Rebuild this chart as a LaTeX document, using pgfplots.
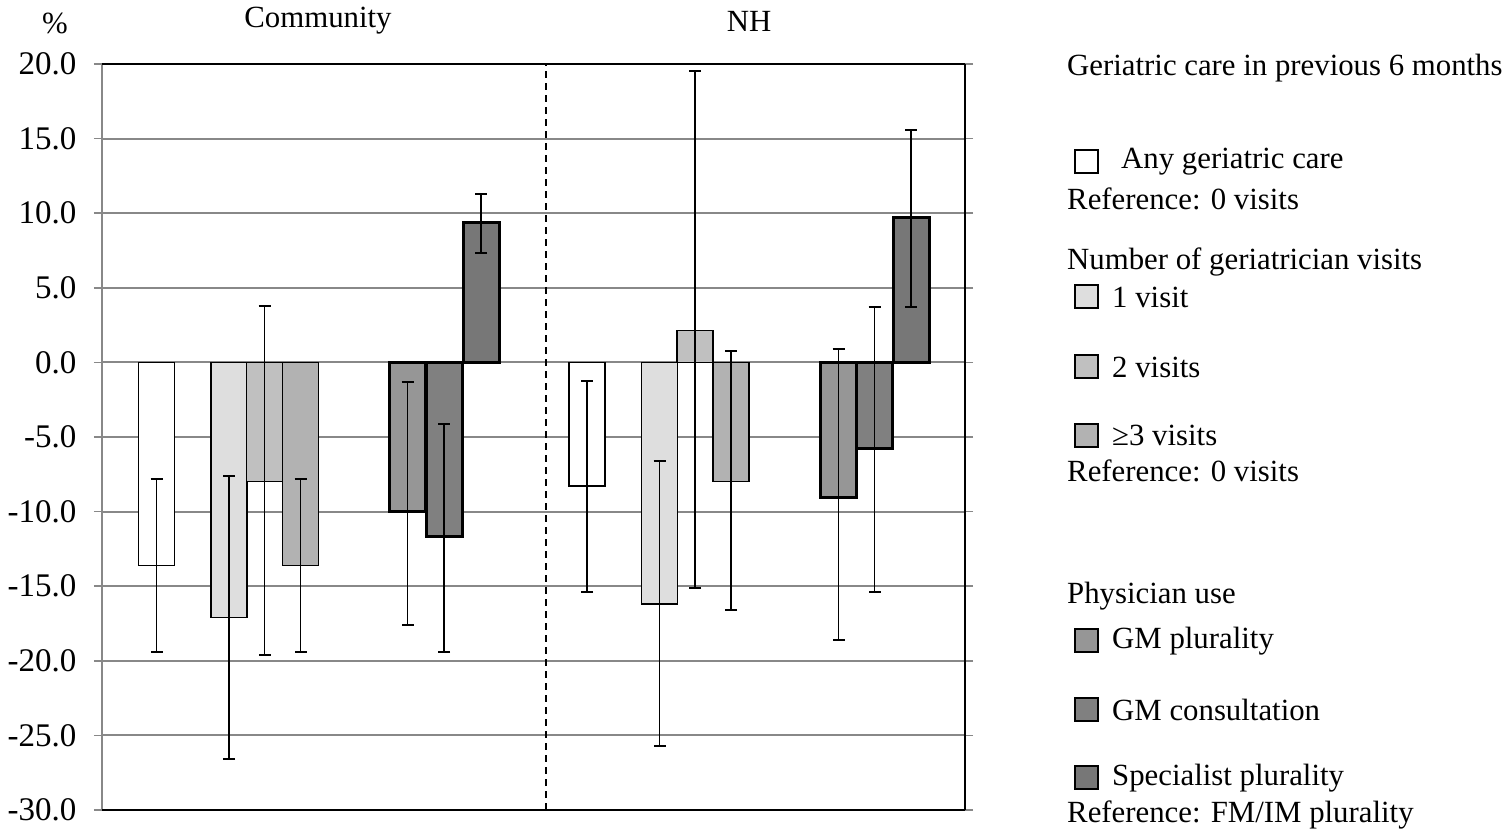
\documentclass[border=0pt]{standalone}
\usepackage{pgfplots}
\pgfplotsset{compat=1.18}
\usepackage{fontspec}
\setmainfont{Liberation Serif}
\definecolor{cA}{HTML}{FFFFFF}
\definecolor{cB}{HTML}{DEDEDE}
\definecolor{cC}{HTML}{C0C0C0}
\definecolor{cD}{HTML}{B2B2B2}
\definecolor{cE}{HTML}{969696}
\definecolor{cF}{HTML}{808080}
\definecolor{cG}{HTML}{777777}
\definecolor{gridg}{HTML}{888888}
\newcommand{\fs}{\fontsize{30.8bp}{36bp}\selectfont}
\newcommand{\fst}{\fontsize{33bp}{38bp}\selectfont}
\begin{document}
\begin{tikzpicture}[x=1bp,y=1bp]
\useasboundingbox (0,0) rectangle (1509,835);
\begin{axis}[
  at={(102bp,25bp)}, anchor=south west,
  scale only axis, width=863bp, height=746bp,
  xmin=102, xmax=965, ymin=-30, ymax=20,
  ytick={-30,-25,...,20},
  xtick=\empty,
  ymajorgrids, grid style={gridg, line width=2bp},
  axis line style={draw=none},
  tick align=outside, major tick length=8bp,
  every tick/.style={gridg, line width=1.5bp},
  yticklabel style={font=\fst, xshift=-14bp},
  /pgf/number format/assume math mode=true,
  /pgf/number format/.cd, fixed, fixed zerofill, precision=1,
  /pgfplots/.cd,
  ybar, bar shift=0pt, bar width=36,
  error bars/y dir=both, error bars/y explicit,
  error bars/error bar style={black, line width=1.8bp},
  error bars/error mark options={black, line width=2bp, mark size=6bp, rotate=90},
  clip=false,
]
\addplot[draw=black, fill=cA, line width=1.6bp] coordinates {
 (156.5,-13.6) += (0,5.8) -= (0,5.8)
 (587,-8.3) += (0,7.03) -= (0,7.1)
};
\addplot[draw=black, fill=cB, line width=1.4bp] coordinates {
 (229,-17.1) += (0,9.5) -= (0,9.5)
 (659.5,-16.2) += (0,9.6) -= (0,9.5)
};
\addplot[draw=black, fill=cC, line width=1.4bp] coordinates {
 (264.5,-8.0) += (0,11.75) -= (0,11.6)
 (695,2.15) += (0,17.35) -= (0,17.25)
};
\addplot[draw=black, fill=cD, line width=1.4bp] coordinates {
 (300.5,-13.6) += (0,5.8) -= (0,5.8)
 (731,-8.0) += (0,8.75) -= (0,8.6)
};
\addplot[draw=black, fill=cE, line width=3bp] coordinates {
 (407.5,-10.0) += (0,8.7) -= (0,7.6)
 (838.5,-9.05) += (0,9.92) -= (0,9.55)
};
\addplot[draw=black, fill=cF, line width=3bp] coordinates {
 (444,-11.7) += (0,7.6) -= (0,7.7)
 (874.5,-5.8) += (0,9.5) -= (0,9.6)
};
\addplot[draw=black, fill=cG, line width=3bp] coordinates {
 (481,9.35) += (0,1.95) -= (0,2.05)
 (911,9.7) += (0,5.9) -= (0,6.0)
};
\draw[black, line width=1.5bp, dash pattern=on 7bp off 5bp] (axis cs:546,-30) -- (axis cs:546,20);
\draw[gridg, line width=1.8bp] (rel axis cs:0,0) -- (rel axis cs:0,1);
\draw[black, line width=2.4bp] (rel axis cs:0,1) -- (rel axis cs:1,1);
\draw[black, line width=2.6bp] (rel axis cs:0,0) -- (rel axis cs:1,0);
\draw[black, line width=1.8bp] (rel axis cs:1,0) -- (rel axis cs:1,1);
\end{axis}
% titles
\node[font=\fs] at (55,812) {\%};
\node[font=\fs] at (318,814) {Community};
\node[font=\fs] at (749,814) {NH};
% legend
\begin{scope}[every node/.style={font=\fs, anchor=west, inner sep=0pt}]
\node at (1067,767) {Geriatric care in previous 6 months};
\draw[black, line width=1.4bp, fill=cA] (1075,662) rectangle (1098,685);
\node at (1121,673) {Any geriatric care};
\node at (1067,636) {Reference: 0 visits};
\node at (1067,573) {Number of geriatrician visits};
\draw[black, line width=1.4bp, fill=cB] (1075,527) rectangle (1098,550);
\node at (1112,538) {1 visit};
\draw[black, line width=1.4bp, fill=cC] (1075,457) rectangle (1098,480);
\node at (1112,468) {2 visits};
\draw[black, line width=1.4bp, fill=cD] (1075,388) rectangle (1098,411);
\node at (1112,400) {≥3 visits};
\node at (1067,364) {Reference: 0 visits};
\node at (1067,239) {Physician use};
\draw[black, line width=2.6bp, fill=cE] (1075,183) rectangle (1098,206);
\node at (1112,194) {GM plurality};
\draw[black, line width=2.6bp, fill=cF] (1075,114) rectangle (1098,137);
\node at (1112,125) {GM consultation};
\draw[black, line width=2.6bp, fill=cG] (1075,46) rectangle (1098,69);
\node at (1112,57) {Specialist plurality};
\node at (1067,20) {Reference: FM/IM plurality};
\end{scope}
\end{tikzpicture}
\end{document}
